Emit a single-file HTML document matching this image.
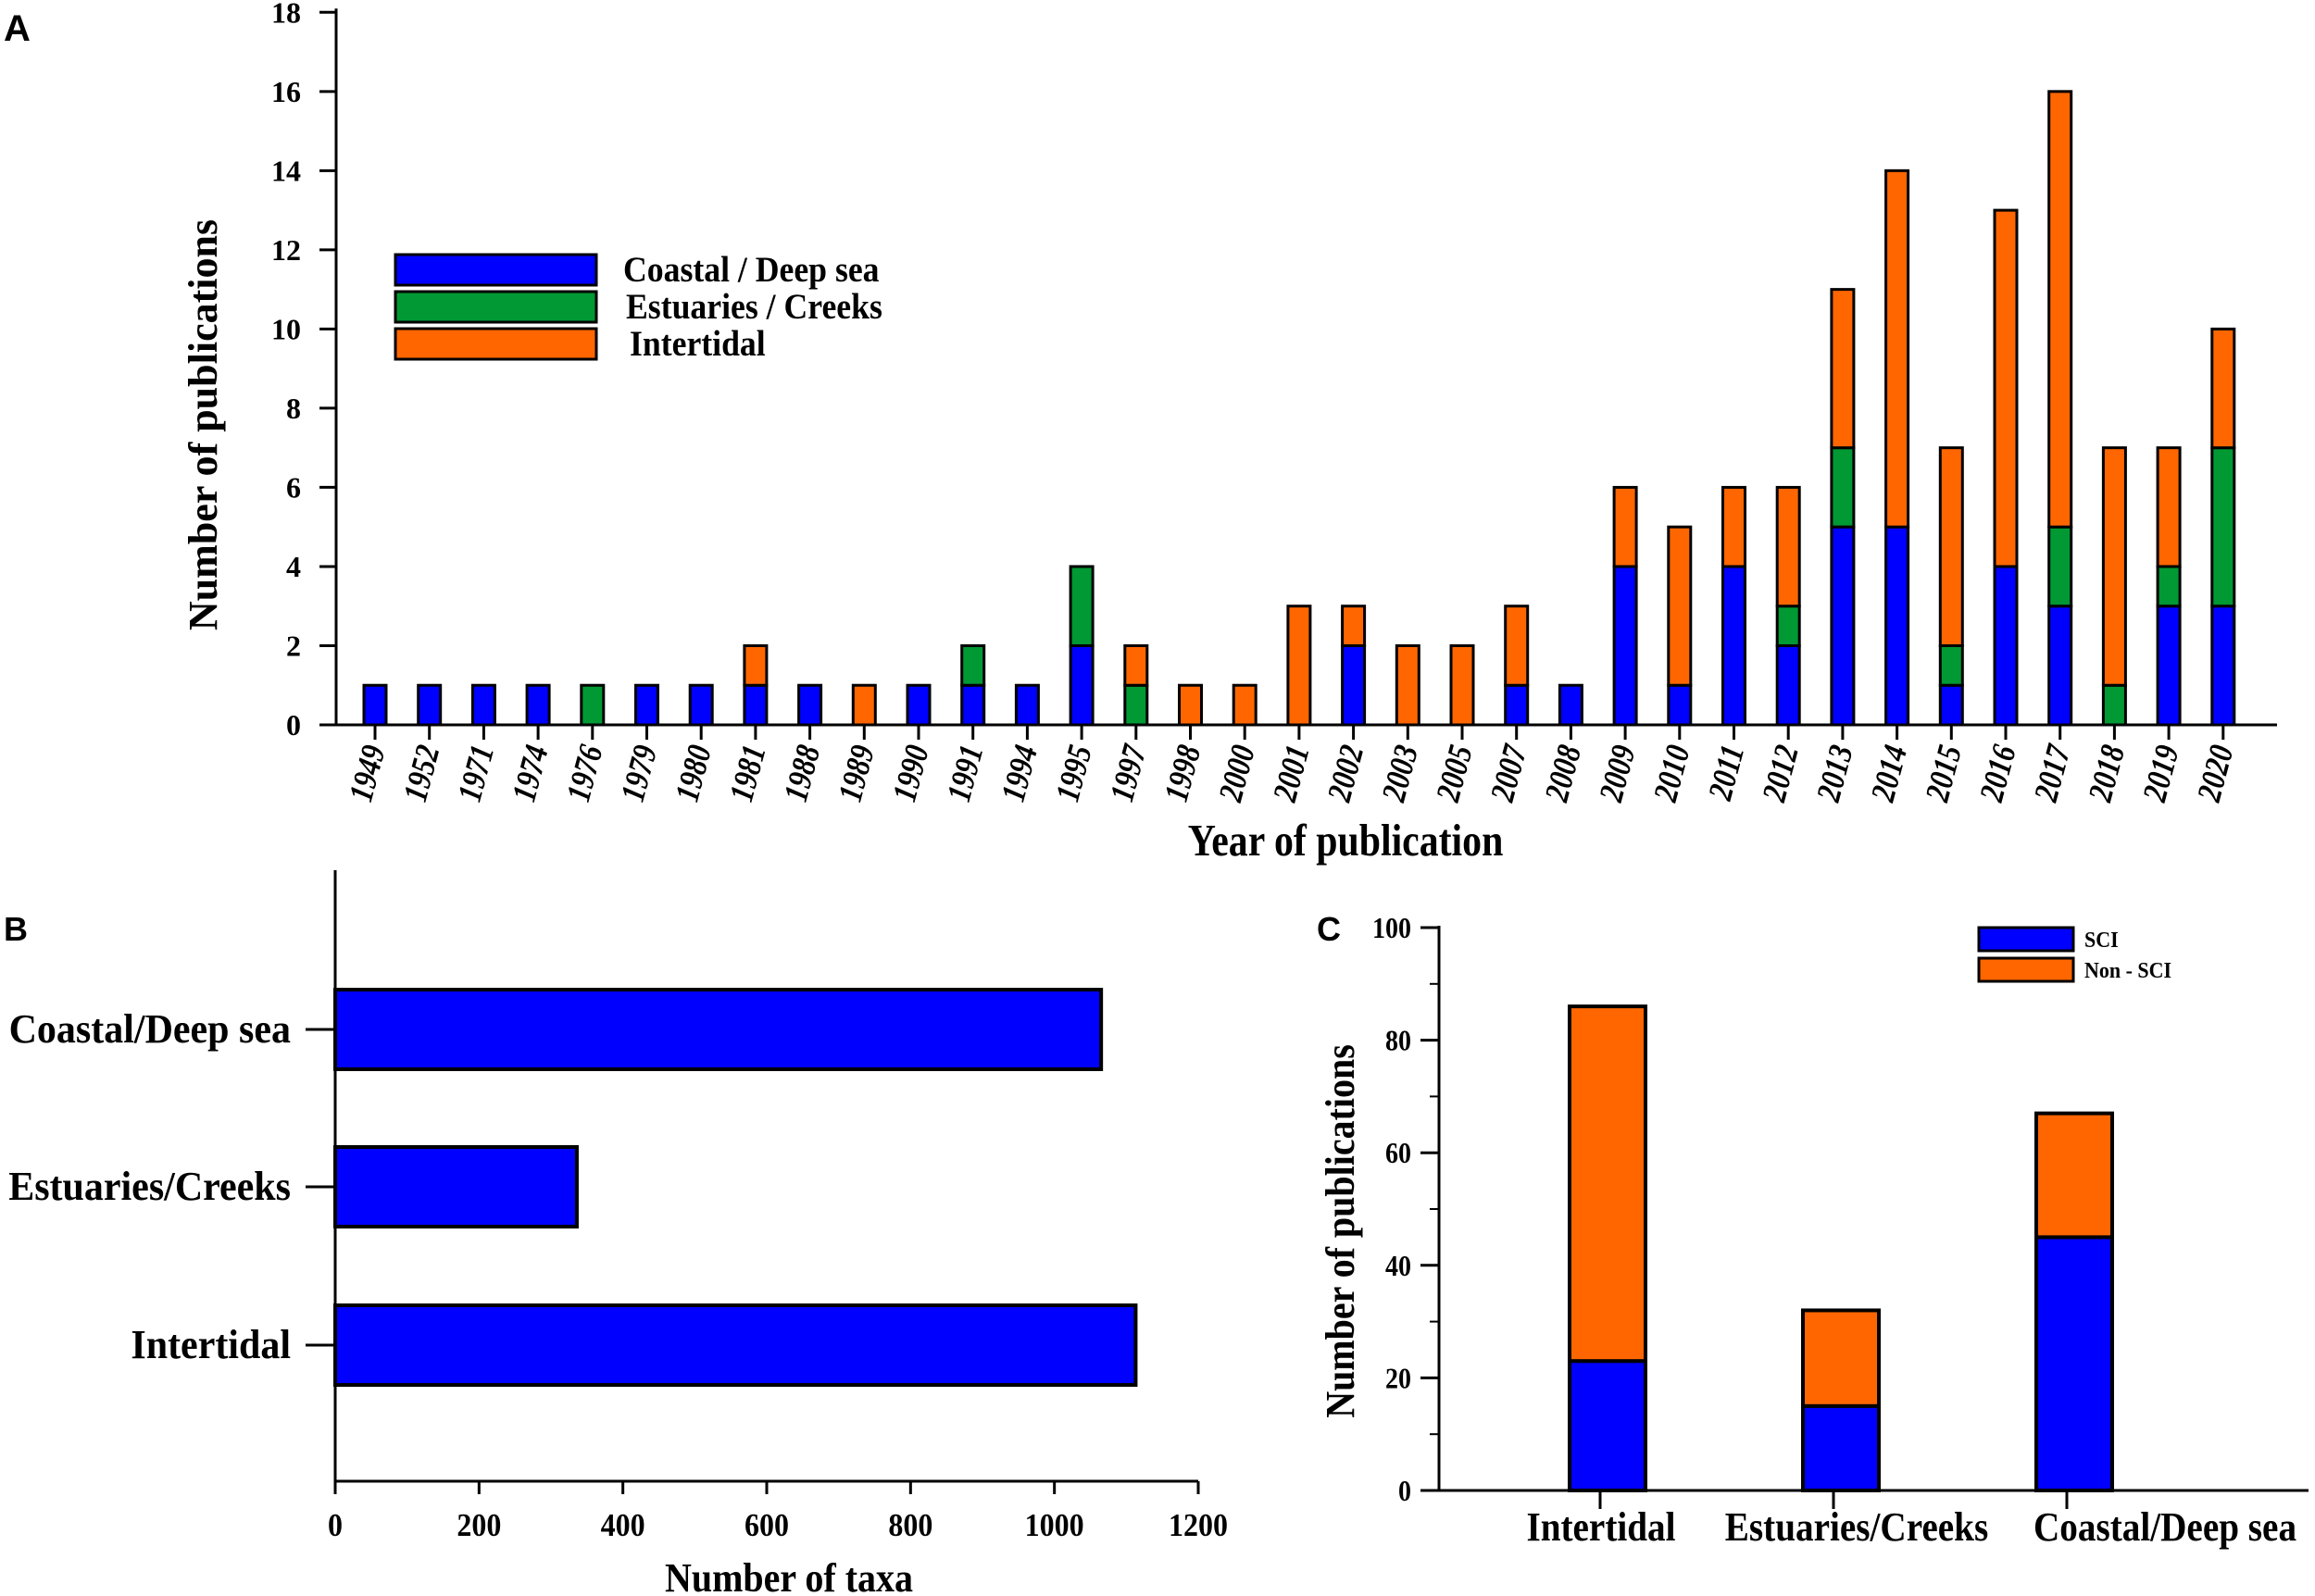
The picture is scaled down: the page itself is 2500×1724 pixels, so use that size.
<!DOCTYPE html>
<html><head><meta charset="utf-8">
<style>
html,body{margin:0;padding:0;background:#fff;}
svg{display:block;}
text{font-family:"Liberation Serif",serif;font-weight:bold;fill:#000;}
.sans{font-family:"Liberation Sans",sans-serif;}
</style></head>
<body>
<svg id="fig" width="2500" height="1724" viewBox="0 0 2500 1724" xmlns="http://www.w3.org/2000/svg">
<text class="sans" x="4" y="44" font-size="40">A</text>
<text class="sans" x="4" y="1016" font-size="36">B</text>
<text class="sans" x="1422" y="1016" font-size="36">C</text>
<g id="pa"></g>
<g id="pb"></g>
<g id="pc"></g>
</svg>
<script>
const years = ["1949","1952","1971","1974","1976","1979","1980","1981","1988","1989","1990","1991","1994","1995","1997","1998","2000","2001","2002","2003","2005","2007","2008","2009","2010","2011","2012","2013","2014","2015","2016","2017","2018","2019","2020"];
const coastalA = [1,1,1,1,0,1,1,1,1,0,1,1,1,2,0,0,0,0,2,0,0,1,1,4,1,4,2,5,5,1,4,3,0,3,3];
const estuaryA = [0,0,0,0,1,0,0,0,0,0,0,1,0,2,1,0,0,0,0,0,0,0,0,0,0,0,1,2,0,1,0,2,1,1,4];
const interA   = [0,0,0,0,0,0,0,1,0,1,0,0,0,0,1,1,1,3,1,2,2,2,0,2,4,2,3,4,9,5,9,11,6,3,3];
const yTicksA = [0,2,4,6,8,10,12,14,16,18];
const legendA = ["Coastal / Deep sea","Estuaries / Creeks","Intertidal"];

const catsB = ["Coastal/Deep sea","Estuaries/Creeks","Intertidal"];
const valsB = [1065,336,1113];
const xTicksB = [0,200,400,600,800,1000,1200];

const catsC = ["Intertidal","Estuaries/Creeks","Coastal/Deep sea"];
const sciC = [23,15,45];
const nonSciC = [63,17,22];
const yTicksC = [0,20,40,60,80,100];
const legendC = ["SCI","Non - SCI"];

const NS="http://www.w3.org/2000/svg";
const BLUE="#0000ff", GREEN="#009933", ORANGE="#ff6600";
function mk(parent, tag, attrs, txt){
  const e=document.createElementNS(NS,tag);
  for(const k in attrs) e.setAttribute(k,attrs[k]);
  if(txt!==undefined) e.textContent=txt;
  parent.appendChild(e); return e;
}

// ---------- Panel A ----------
(function(){
  const g=document.getElementById('pa');
  const x0=363, yBase=783, yTop=13.3, yMax=18;
  const y=v=>yBase-(v/yMax)*(yBase-yTop);
  const xFirst=405, step=58.7;
  const xc=i=>xFirst+i*step;
  const bw=24;
  years.forEach((yr,i)=>{
    const segs=[[coastalA[i],BLUE],[estuaryA[i],GREEN],[interA[i],ORANGE]];
    let acc=0;
    segs.forEach(([v,c],k)=>{
      if(v<=0) return;
      const r=mk(g,'rect',{x:xc(i)-bw/2,y:y(acc+v),width:bw,height:y(acc)-y(acc+v),fill:c,stroke:'#000','stroke-width':3});
      
      
      acc+=v;
    });
  });
  let a=mk(g,'line',{x1:x0,y1:yTop-4,x2:x0,y2:yBase,stroke:'#000','stroke-width':3});
   
  a=mk(g,'line',{x1:x0-18,y1:yBase,x2:2459,y2:yBase,stroke:'#000','stroke-width':3});
   
  yTicksA.forEach(t=>{
    mk(g,'line',{x1:x0-18,y1:y(t),x2:x0,y2:y(t),stroke:'#000','stroke-width':3});
    const tl=mk(g,'text',{x:x0-38,y:y(t)+11,'font-size':32,'text-anchor':'end'},t);
     
  });
  years.forEach((yr,i)=>{
    mk(g,'line',{x1:xc(i),y1:yBase,x2:xc(i),y2:yBase+16,stroke:'#000','stroke-width':3});
    const tl=mk(g,'text',{x:0,y:0,'font-size':32,'font-style':'italic','text-anchor':'end',transform:`translate(${xc(i)+11},${yBase+26}) rotate(-75) scale(0.95,1.15)`},yr);
     
  });
  let t=mk(g,'text',{x:0,y:0,'font-size':44,'text-anchor':'middle',transform:'translate(234,459) rotate(-90)'},'Number of publications');
   
  t=mk(g,'text',{x:0,y:0,'font-size':44,'text-anchor':'middle',transform:'translate(1453,924) scale(0.95,1.1)'},'Year of publication');
   
  const lc=[BLUE,GREEN,ORANGE], ly=[275,315,355], lx=[673,676,680];
  legendA.forEach((n,k)=>{
    const r=mk(g,'rect',{x:427,y:ly[k],width:217,height:33,fill:lc[k],stroke:'#000','stroke-width':3});
     
    const tx=mk(g,'text',{x:0,y:0,'font-size':34,transform:`translate(${lx[k]},${ly[k]+29}) scale(1.05,1.15)`},n);
     
  });
})();

// ---------- Panel B ----------
(function(){
  const g=document.getElementById('pb');
  const x0=362, xMaxPx=1294, vMax=1200, yBase=1600, yTop=940;
  const x=v=>x0+(v/vMax)*(xMaxPx-x0);
  const centers=[1112,1282,1453], bh=86;
  catsB.forEach((c,i)=>{
    const r=mk(g,'rect',{x:x0,y:centers[i]-bh/2,width:x(valsB[i])-x0,height:bh,fill:BLUE,stroke:'#000','stroke-width':4});
     
    mk(g,'line',{x1:330,y1:centers[i],x2:x0,y2:centers[i],stroke:'#000','stroke-width':3});
    const tl=mk(g,'text',{x:0,y:0,'font-size':40,'text-anchor':'end',transform:`translate(314,${centers[i]+14}) scale(1.05,1.1)`},c);
     
  });
  let a=mk(g,'line',{x1:x0,y1:yTop,x2:x0,y2:yBase+14,stroke:'#000','stroke-width':3});
   
  a=mk(g,'line',{x1:x0,y1:yBase,x2:xMaxPx,y2:yBase,stroke:'#000','stroke-width':3});
   
  xTicksB.forEach(t=>{
    mk(g,'line',{x1:x(t),y1:yBase,x2:x(t),y2:yBase+14,stroke:'#000','stroke-width':3});
    const tl=mk(g,'text',{x:0,y:0,'font-size':32,'text-anchor':'middle',transform:`translate(${x(t)},1659) scale(1,1.1)`},t);
     
  });
  const t=mk(g,'text',{x:0,y:0,'font-size':40,'text-anchor':'middle',transform:'translate(852,1719) scale(1,1.1)'},'Number of taxa');
   
})();

// ---------- Panel C ----------
(function(){
  const g=document.getElementById('pc');
  const x0=1554, yBase=1610, yTop=1002, vMax=100;
  const y=v=>yBase-(v/vMax)*(yBase-yTop);
  const centers=[1736,1988,2240], bw=82;
  const labelShift=[-7,17,98];
  catsC.forEach((c,i)=>{
    let r=mk(g,'rect',{x:centers[i]-bw/2,y:y(sciC[i]),width:bw,height:yBase-y(sciC[i]),fill:BLUE,stroke:'#000','stroke-width':4});
     
    const tot=sciC[i]+nonSciC[i];
    r=mk(g,'rect',{x:centers[i]-bw/2,y:y(tot),width:bw,height:y(sciC[i])-y(tot),fill:ORANGE,stroke:'#000','stroke-width':4});
     
    mk(g,'line',{x1:centers[i]-8,y1:yBase,x2:centers[i]-8,y2:yBase+20,stroke:'#000','stroke-width':3});
    const tl=mk(g,'text',{x:0,y:0,'font-size':40,'text-anchor':'middle',transform:`translate(${centers[i]+labelShift[i]},1664) scale(0.98,1.1)`},c);
     
  });
  let a=mk(g,'line',{x1:x0,y1:yTop-2,x2:x0,y2:yBase,stroke:'#000','stroke-width':3});
   
  a=mk(g,'line',{x1:x0-20,y1:yBase,x2:2493,y2:yBase,stroke:'#000','stroke-width':3});
   
  for(let v=10; v<vMax; v+=20){
    mk(g,'line',{x1:x0-10,y1:y(v),x2:x0,y2:y(v),stroke:'#000','stroke-width':2});
  }
  yTicksC.forEach(t=>{
    mk(g,'line',{x1:x0-20,y1:y(t),x2:x0,y2:y(t),stroke:'#000','stroke-width':3});
    const tl=mk(g,'text',{x:0,y:0,'font-size':28,'text-anchor':'end',transform:`translate(${x0-30},${y(t)+11}) scale(1,1.15)`},t);
     
  });
  const t=mk(g,'text',{x:0,y:0,'font-size':40,'text-anchor':'middle',transform:'translate(1462,1330) rotate(-90) scale(1,1.1)'},'Number of publications');
   
  const lc=[BLUE,ORANGE], ly=[1002,1035];
  legendC.forEach((n,k)=>{
    const r=mk(g,'rect',{x:2137,y:ly[k],width:102,height:25,fill:lc[k],stroke:'#000','stroke-width':3});
     
    const tx=mk(g,'text',{x:0,y:0,'font-size':22,transform:`translate(2251,${ly[k]+21}) scale(1,1.1)`},n);
     
  });
})();
</script>
</body></html>
